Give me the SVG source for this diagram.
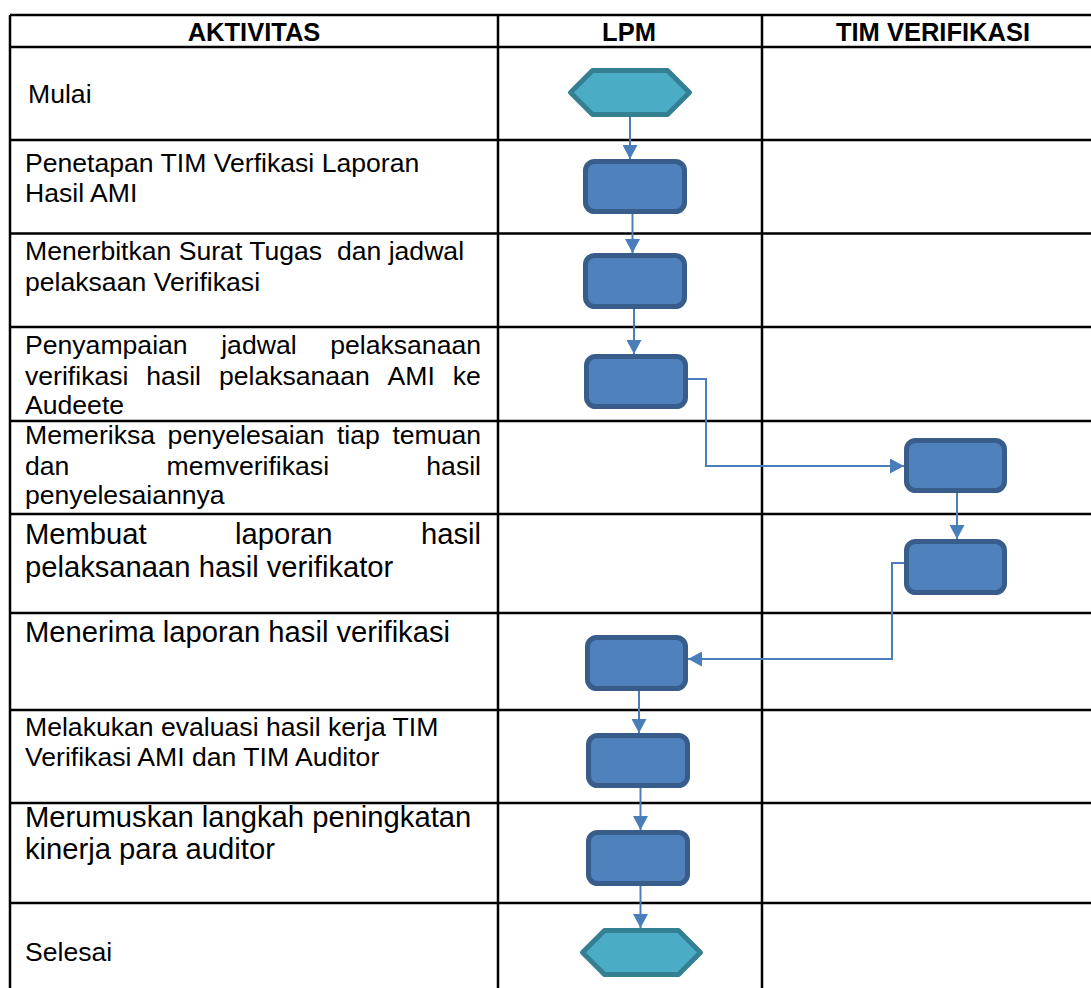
<svg xmlns="http://www.w3.org/2000/svg" width="1091" height="988" viewBox="0 0 1091 988">
<style>
.grid{stroke:#000;stroke-width:2.5;fill:none}
.hd{font-family:"Liberation Sans",Arial,sans-serif;font-weight:bold;font-size:25.5px;fill:#000;text-anchor:middle}
.t{font-family:"Liberation Sans",Arial,sans-serif;font-size:26.6px;fill:#000}
.tl{font-family:"Liberation Sans",Arial,sans-serif;font-size:29.2px;fill:#000}
.proc{fill:#4F81BD;stroke:#385D8A;stroke-width:5}
.term{fill:#4BACC6;stroke:#357F93;stroke-width:5;stroke-linejoin:round}
.conn{fill:none;stroke:#4A7EBB;stroke-width:2;marker-end:url(#arr)}
</style>
<defs>
<marker id="arr" markerUnits="userSpaceOnUse" markerWidth="14" markerHeight="15" viewBox="0 0 14 15" refX="14" refY="7.5" orient="auto">
<path d="M0,0 L14,7.5 L0,15 Z" fill="#4A7EBB"/>
</marker>
</defs>
<rect width="1091" height="988" fill="#fff"/>
<g id="table" class="grid">
<path d="M10,15 V988 M498,15 V988 M762,15 V988"/>
<path d="M10,15 H1091 M10,47 H1091 M10,140 H1091 M10,233.5 H1091 M10,327 H1091 M10,421 H1091 M10,514 H1091 M10,613 H1091 M10,710 H1091 M10,803 H1091 M10,903 H1091"/>
</g>
<g id="headers">
<text class="hd" x="254" y="41">AKTIVITAS</text>
<text class="hd" x="629" y="41">LPM</text>
<text class="hd" x="933" y="41">TIM VERIFIKASI</text>
</g>
<g id="activities">
<text class="t" x="28" y="103">Mulai</text>
<text class="t" x="25" y="172">Penetapan TIM Verfikasi Laporan</text>
<text class="t" x="25" y="202">Hasil AMI</text>
<text class="t" x="25" y="260" xml:space="preserve">Menerbitkan Surat Tugas  dan jadwal</text>
<text class="t" x="25" y="291">pelaksaan Verifikasi</text>
<text class="t" y="354"><tspan x="25">Penyampaian</tspan><tspan x="221.2">jadwal</tspan><tspan x="330.2">pelaksanaan</tspan></text>
<text class="t" y="384.5"><tspan x="25">verifikasi</tspan><tspan x="146.3">hasil</tspan><tspan x="218.9">pelaksanaan</tspan><tspan x="387.6">AMI</tspan><tspan x="452.8">ke</tspan></text>
<text class="t" x="25" y="414">Audeete</text>
<text class="t" y="444"><tspan x="25">Memeriksa</tspan><tspan x="167.6">penyelesaian</tspan><tspan x="336.9">tiap</tspan><tspan x="392.4">temuan</tspan></text>
<text class="t" y="474.5"><tspan x="25">dan</tspan><tspan x="166.5">memverifikasi</tspan><tspan x="426.3">hasil</tspan></text>
<text class="t" x="25" y="504">penyelesaiannya</text>
<text class="tl" y="544"><tspan x="25">Membuat</tspan><tspan x="235.1">laporan</tspan><tspan x="421">hasil</tspan></text>
<text class="tl" x="25" y="577">pelaksanaan hasil verifikator</text>
<text class="tl" x="25" y="642">Menerima laporan hasil verifikasi</text>
<text class="t" x="25" y="736">Melakukan evaluasi hasil kerja TIM</text>
<text class="t" x="25" y="766">Verifikasi AMI dan TIM Auditor</text>
<text class="tl" x="25" y="827">Merumuskan langkah peningkatan</text>
<text class="tl" x="25" y="859">kinerja para auditor</text>
<text class="t" x="25" y="961">Selesai</text>
</g>
<g id="connectors">
<path class="conn" d="M630,117 V159"/>
<path class="conn" d="M632.5,214 V253"/>
<path class="conn" d="M634,309 V354"/>
<path class="conn" d="M688,379 H706 V466 H904"/>
<path class="conn" d="M957,493 V539"/>
<path class="conn" d="M904,563 H892 V659 H688"/>
<path class="conn" d="M639,691 V733"/>
<path class="conn" d="M640.5,788 V830"/>
<path class="conn" d="M640.5,886 V928"/>
</g>
<g id="n-mulai"><polygon class="term" points="570.5,92.5 592.5,70.5 667.5,70.5 689.5,92.5 667.5,114.5 592.5,114.5"/></g>
<g id="n-penetapan"><rect class="proc" x="585.5" y="161.5" width="99" height="50" rx="9"/></g>
<g id="n-menerbitkan"><rect class="proc" x="585.5" y="255.5" width="99" height="51" rx="9"/></g>
<g id="n-penyampaian"><rect class="proc" x="586.5" y="356.5" width="99" height="50" rx="9"/></g>
<g id="n-memeriksa"><rect class="proc" x="906.5" y="440.5" width="98" height="50" rx="9"/></g>
<g id="n-membuat"><rect class="proc" x="906.5" y="541.5" width="98" height="51" rx="9"/></g>
<g id="n-menerima"><rect class="proc" x="587.5" y="637.5" width="98" height="51" rx="9"/></g>
<g id="n-melakukan"><rect class="proc" x="588.5" y="735.5" width="99" height="50" rx="9"/></g>
<g id="n-merumuskan"><rect class="proc" x="588.5" y="832.5" width="99" height="51" rx="9"/></g>
<g id="n-selesai"><polygon class="term" points="582.5,952.5 604.5,930.5 678.5,930.5 700.5,952.5 678.5,974.5 604.5,974.5"/></g>
</svg>
